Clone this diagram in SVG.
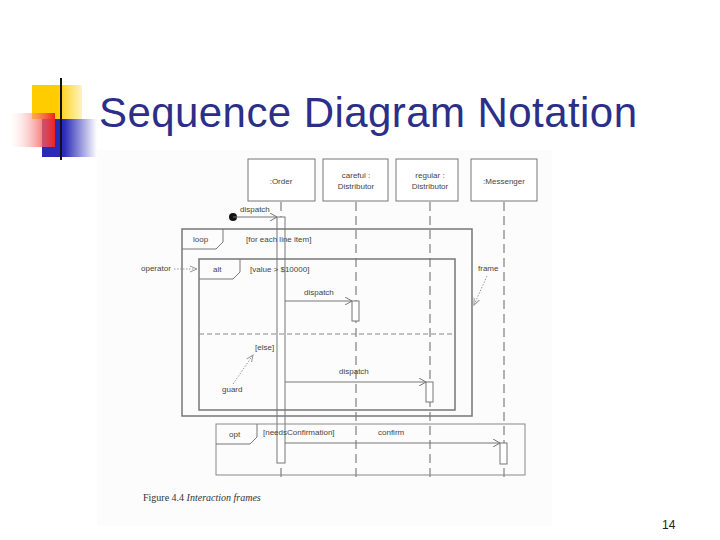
<svg xmlns="http://www.w3.org/2000/svg" width="720" height="540" viewBox="0 0 720 540">
<style>
.t{font-family:"Liberation Sans",Arial,sans-serif;font-size:8px;fill:#444}
.box{fill:#fff;stroke:#777;stroke-width:1}
.ll{stroke:#666;stroke-width:1;stroke-dasharray:9,5}
.fr{fill:none;stroke:#777;stroke-width:1.5}
.ln{stroke:#777;stroke-width:1;fill:none}
.dot{stroke:#999;stroke-width:1;stroke-dasharray:1.5,1.5;fill:none}
.act{fill:#fff;stroke:#777}
</style>
<defs>
<marker id="oa" markerWidth="8" markerHeight="8" refX="7" refY="4" orient="auto" markerUnits="userSpaceOnUse"><path d="M0,0 L7,4 L0,8" fill="none" stroke="#777"/></marker>
<marker id="da" markerWidth="8" markerHeight="8" refX="7" refY="4" orient="auto" markerUnits="userSpaceOnUse"><path d="M0,1 L7,4 L0,7" fill="none" stroke="#999"/></marker>
<linearGradient id="rg" x1="1" y1="0" x2="0" y2="0"><stop offset="0" stop-color="#f02020"/><stop offset="1" stop-color="#fff" stop-opacity="0.2"/></linearGradient>
<linearGradient id="bg" x1="0" y1="0" x2="1" y2="0"><stop offset="0.4" stop-color="#2a2ab8"/><stop offset="1" stop-color="#fff"/></linearGradient>
<linearGradient id="yg" x1="0" y1="0" x2="1" y2="0"><stop offset="0.5" stop-color="#ffcc00"/><stop offset="1" stop-color="#fff4c0"/></linearGradient>
<linearGradient id="hl" x1="0" y1="0" x2="1" y2="0"><stop offset="0" stop-color="#222"/><stop offset="0.3" stop-color="#555"/><stop offset="1" stop-color="#ddd"/></linearGradient>
</defs>
<rect width="720" height="540" fill="#fff"/>
<g id="logo">
<rect x="32" y="85" width="50" height="34" fill="url(#yg)"/>
<rect x="42" y="119" width="55" height="38" fill="url(#bg)"/>
<rect x="10" y="113" width="45" height="34" fill="url(#rg)"/>
<line x1="61" y1="78" x2="61" y2="160" stroke="#111" stroke-width="2"/>
<line x1="34" y1="141" x2="660" y2="141" stroke="url(#hl)" stroke-width="2"/>
</g>
<text x="99" y="127" font-family="Liberation Sans,Arial,sans-serif" font-size="42" textLength="538" fill="#2b2f87">Sequence Diagram Notation</text>
<rect x="97" y="150" width="455" height="376" fill="#fcfcfc"/>
<g id="lifelines">
<line class="ll" x1="281" y1="202" x2="281" y2="480"/>
<line class="ll" x1="356" y1="202" x2="356" y2="480"/>
<line class="ll" x1="430" y1="202" x2="430" y2="480"/>
<line class="ll" x1="504" y1="202" x2="504" y2="480"/>
</g>
<g id="activations">
<rect class="act" x="277" y="217" width="8" height="246"/>
<rect class="act" x="352" y="301" width="7" height="20"/>
<rect class="act" x="426" y="382" width="7" height="20"/>
<rect class="act" x="500" y="443" width="7" height="21"/>
</g>
<g id="n-order"><rect class="box" x="248" y="159" width="67" height="42"/><text class="t" x="281" y="184" text-anchor="middle">:Order</text></g>
<g id="n-careful"><rect class="box" x="323" y="159" width="65" height="42"/><text class="t" x="356" y="178" text-anchor="middle">careful :</text><text class="t" x="356" y="189" text-anchor="middle">Distributor</text></g>
<g id="n-regular"><rect class="box" x="396" y="159" width="62" height="42"/><text class="t" x="430" y="178" text-anchor="middle">regular :</text><text class="t" x="430" y="189" text-anchor="middle">Distributor</text></g>
<g id="n-messenger"><rect class="box" x="471" y="159" width="66" height="42"/><text class="t" x="504" y="184" text-anchor="middle">:Messenger</text></g>
<g id="frames">
<rect class="fr" x="182" y="229" width="290" height="187"/>
<path class="ln" d="M182,249 H216 L223,242 V229"/>
<text class="t" x="193" y="242">loop</text>
<text class="t" x="246" y="242">[for each line item]</text>
<rect class="fr" x="199" y="259" width="256" height="151"/>
<path class="ln" d="M199,279 H233 L240,272 V259"/>
<text class="t" x="213" y="272">alt</text>
<text class="t" x="250" y="272">[value &gt; $10000]</text>
<line x1="199" y1="334" x2="455" y2="334" stroke="#888" stroke-dasharray="5,3"/>
<text class="t" x="255" y="350">[else]</text>
<rect x="216" y="424" width="309" height="51" fill="none" stroke="#888"/>
<path class="ln" d="M216,444 H250 L257,437 V424"/>
<text class="t" x="229" y="437">opt</text>
<text class="t" x="263" y="435">[needsConfirmation]</text>
</g>
<g id="connectors">
<circle cx="233" cy="217" r="4" fill="#111"/>
<line class="ln" x1="233" y1="217" x2="277" y2="217" marker-end="url(#oa)"/>
<text class="t" x="240" y="212">dispatch</text>
<line class="ln" x1="285" y1="301" x2="352" y2="301" marker-end="url(#oa)"/>
<text class="t" x="304" y="295">dispatch</text>
<line class="ln" x1="285" y1="382" x2="426" y2="382" marker-end="url(#oa)"/>
<text class="t" x="339" y="374">dispatch</text>
<line class="ln" x1="285" y1="443" x2="500" y2="443" marker-end="url(#oa)"/>
<text class="t" x="378" y="435">confirm</text>
<line class="dot" x1="174" y1="269" x2="197" y2="269" marker-end="url(#da)"/>
<text class="t" x="141" y="271">operator</text>
<line class="dot" x1="487" y1="276" x2="474" y2="305" marker-end="url(#da)"/>
<text class="t" x="478" y="271">frame</text>
<line class="dot" x1="233" y1="384" x2="253" y2="355" marker-end="url(#da)"/>
<text class="t" x="222" y="392">guard</text>
</g>
<text x="143" y="501" font-family="Liberation Serif,serif" font-size="10" fill="#333">Figure 4.4  <tspan font-style="italic">Interaction frames</tspan></text>
<text x="662" y="529" font-family="Liberation Sans,Arial,sans-serif" font-size="12" fill="#222">14</text>
</svg>
